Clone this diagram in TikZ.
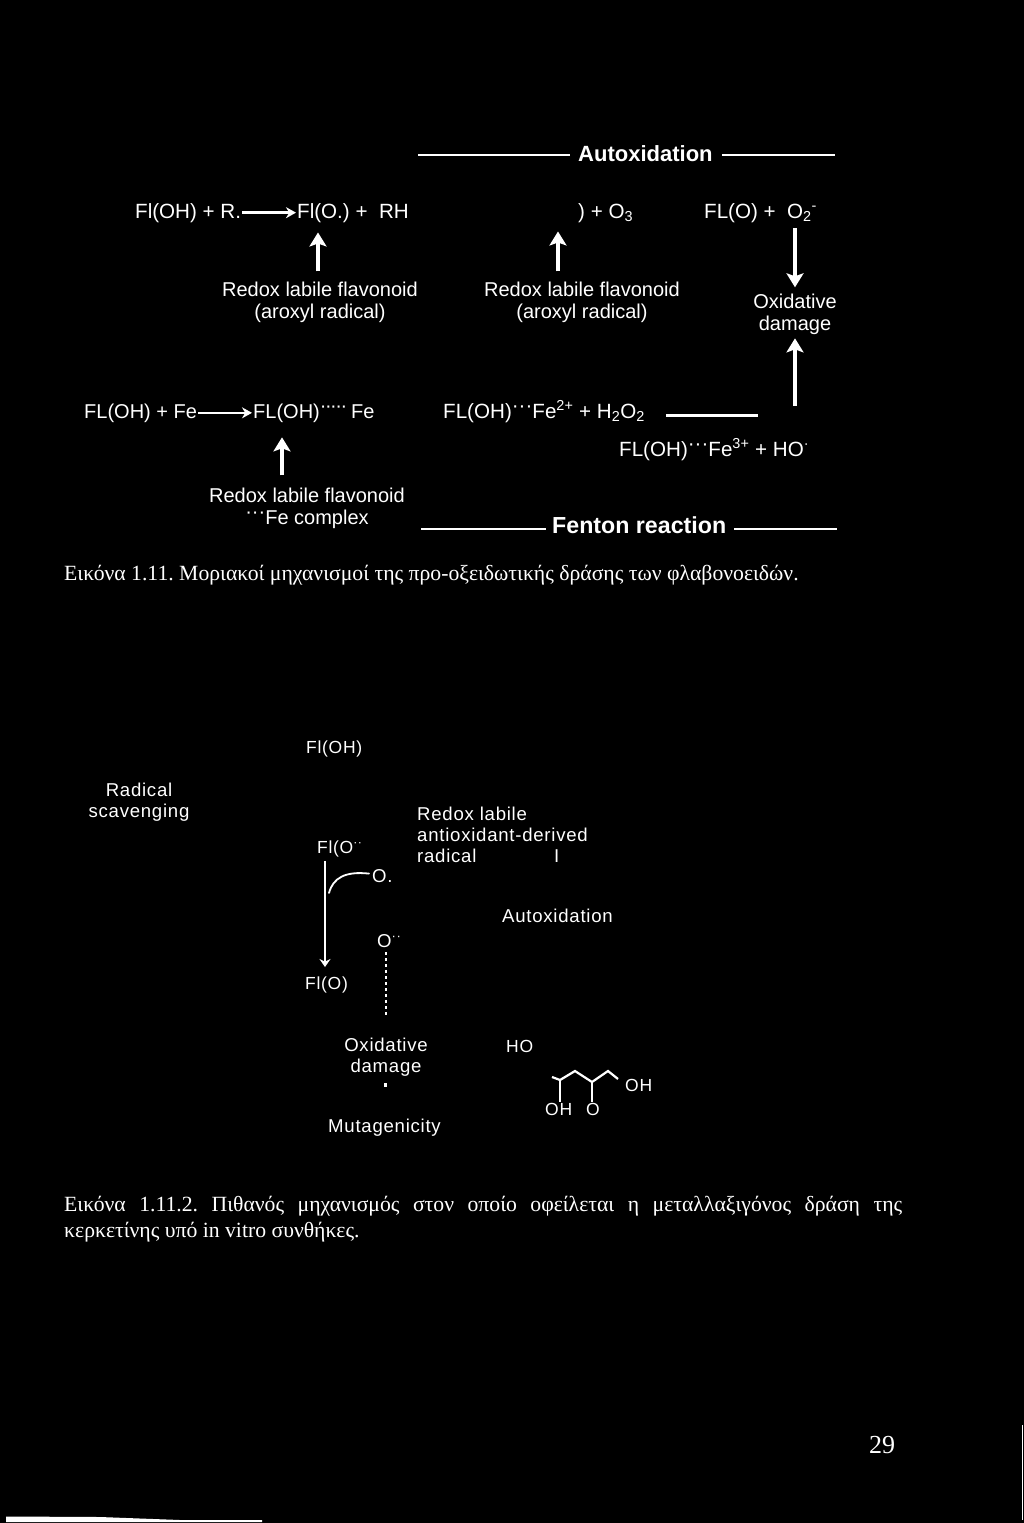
\documentclass[tikz,border=0pt]{standalone}
\usepackage{fontspec}
\setmainfont{Liberation Serif}
\setsansfont{Liberation Sans}
\usetikzlibrary{arrows.meta,calc}
\frenchspacing
\newcommand{\hd}[1]{\raisebox{0.5ex}[0pt][0pt]{#1}}
\newcommand{\pd}{\textperiodcentered\kern-1.5pt}
\tikzset{
  lab/.style={text=white,font=\sffamily\fontsize{20.6}{22}\selectfont,inner sep=1pt},
  labw/.style={text=white,font=\sffamily\fontsize{20}{22}\selectfont,inner sep=1pt},
  lows/.style={text=white,font=\sffamily\addfontfeature{LetterSpace=4}\fontsize{18.6}{21}\selectfont,inner sep=1pt},
  chem/.style={text=white,font=\sffamily\addfontfeature{LetterSpace=4}\fontsize{17.5}{21}\selectfont,inner sep=1pt},
  head/.style={text=white,font=\sffamily\bfseries\fontsize{22}{26}\selectfont,inner sep=1pt},
  headb/.style={text=white,font=\sffamily\bfseries\fontsize{23.2}{26}\selectfont,inner sep=1pt},
  greek/.style={text=white,font=\rmfamily\fontsize{21.7}{26}\selectfont,inner sep=0pt},
  wl/.style={draw=white,line width=#1},
  bigarrow/.style={draw=white,line width=3.4pt,-{Stealth[length=14pt,width=17pt,inset=3pt]}},
  smallarrow/.style={draw=white,line width=2.6pt,-{Stealth[length=10pt,width=11pt]}}
}
\begin{document}
\begin{tikzpicture}[x=1pt,y=-1pt]
\useasboundingbox (0,0) rectangle (1024,1523);
\fill[black] (0,0) rectangle (1024,1523);

% --- upper scheme
\node[head,anchor=base west] (auto) at (577,161) {Autoxidation};
\coordinate (autoL) at (418,155);
\coordinate (autoR) at (835,155);
\draw[wl=2pt] (autoL) -- ([xshift=-7pt]autoL -| auto.west);
\draw[wl=2pt] ([xshift=8pt]auto.east |- autoR) -- (autoR);

\node[lab,anchor=base west] (r1a) at (134,218) {Fl(OH) + R.};
\node[lab,anchor=base west] (r1b) at (296,218) {Fl(O.) +\ \ RH};
\draw[smallarrow] (r1a) -- (r1b);
\node[lab,anchor=base west] (r1c) at (577,218) {) + O\textsubscript{3}};
\node[lab,anchor=base west] (r1d) at (703,218) {FL(O) +\ \ O\textsubscript{2}\textsuperscript{-}};

\node[labw,align=center,anchor=base] (rd1) at (320,318) {Redox labile flavonoid\\(aroxyl radical)};
\node[labw,align=center,anchor=base] (rd2) at (582,318) {Redox labile flavonoid\\(aroxyl radical)};
\node[labw,align=center,anchor=base] (ox1) at (795,330) {Oxidative\\damage};

\draw[bigarrow,shorten <=9pt,shorten >=9pt] ([xshift=-2pt]rd1.north) -- ([xshift=-2pt]rd1.north |- r1b.south);
\draw[bigarrow,shorten <=9pt,shorten >=8pt] ([xshift=-24pt]rd2.north) -- ([xshift=-24pt]rd2.north |- r1c.south);
\draw[bigarrow,shorten <=5pt,shorten >=5pt] (r1d.south -| ox1.north) -- (ox1.north);

\node[labw,anchor=base west] (r2a) at (83,418) {FL(OH) + Fe};
\node[labw,anchor=base west] (r2b) at (252,418) {FL(OH)\hd{\pd\pd\pd\pd\pd}\ Fe};
\draw[smallarrow] (r2a) -- (r2b);
\node[lab,anchor=base west] (r2c) at (442,418) {FL(OH)\hd{\textperiodcentered\textperiodcentered\textperiodcentered}Fe\textsuperscript{2+} + H\textsubscript{2}O\textsubscript{2}};
\node[lab,anchor=base west] (r2d) at (618,456) {FL(OH)\hd{\textperiodcentered\textperiodcentered\textperiodcentered}Fe\textsuperscript{3+} + HO\textsuperscript{\textperiodcentered}};
\coordinate (fenEnd) at (758,415);
\draw[wl=3pt,shorten <=20pt] (r2c.east |- fenEnd) -- (fenEnd);
\draw[bigarrow,shorten <=31pt,shorten >=3pt] (r2d.north -| ox1.south) -- (ox1.south);

\node[labw,align=center,anchor=base] (rd3) at (307,524) {Redox labile flavonoid\\\hd{\textperiodcentered\textperiodcentered\textperiodcentered}Fe complex};
\draw[bigarrow,shorten <=11pt,shorten >=14pt] ([xshift=-25pt]rd3.north) -- ([xshift=-25pt]rd3.north |- r2b.south);

\node[headb,anchor=base west] (fen) at (551,533) {Fenton reaction};
\coordinate (fenL) at (421,529);
\coordinate (fenR) at (837,529);
\draw[wl=2pt] (fenL) -- ([xshift=-5pt]fenL -| fen.west);
\draw[wl=2pt] ([xshift=7pt]fen.east |- fenR) -- (fenR);

\node[greek,anchor=base west] (cap1) at (64,580) {Εικόνα 1.11. Μοριακοί μηχανισμοί της προ-οξειδωτικής δράσης των φλαβονοειδών.};

% --- lower scheme
\node[chem,anchor=base west] (a1) at (305,753) {Fl(OH)};
\node[lows,align=center,anchor=base] (rs) at (139,817) {Radical\\scavenging};
\node[chem,anchor=base west] (a2) at (316,853) {Fl(O\textsuperscript{\textperiodcentered\textperiodcentered}};
\node[lows,align=left,anchor=base west] (rl) at (416,862) {Redox labile\\antioxidant-derived\\radical};
\node[lows,anchor=base west] (bar) at (553,862) {I};
\node[lows,anchor=base west] (o1) at (371,882) {O.};
\node[lows,anchor=base west] (o2) at (376,947) {O\textsuperscript{\textperiodcentered\textperiodcentered}};
\node[lows,anchor=base west] (aut2) at (501,922) {Autoxidation};
\node[chem,anchor=base west] (a3) at (304,989) {Fl(O)};
\node[lows,align=center,anchor=base] (ox2) at (386,1072) {Oxidative\\damage};
\node[lows,anchor=base west] (mut) at (327,1132) {Mutagenicity};

\coordinate (j1) at (329,893);
\draw[white,line width=2.4pt,-{Stealth[length=8pt,width=11pt]}] (a2.south -| 325,0) ++(0,3) -- (325,967);
\draw[white,line width=1.8pt,line cap=round] (o1.west) ++(-2,-2) .. controls (345,871) and (333,878) .. (j1);
\draw[white,line width=2.6pt,dash pattern=on 3pt off 3pt,shorten <=4pt] (o2.south -| 386,0) -- (386,1016);
\fill[white] (ox2.south) ++(-2,6) rectangle ++(3,4);

\node[chem,anchor=base west] (ho) at (505,1052) {HO};
\node[chem,anchor=base west] (oh1) at (624,1091) {OH};
\node[chem,anchor=base west] (oh2) at (544,1115) {OH};
\node[chem,anchor=base west] (o3) at (585,1115) {O};
\coordinate (c1) at (552,1077);
\coordinate (c2) at (560,1080);
\coordinate (c3) at (575,1071);
\coordinate (c4) at (592,1082);
\coordinate (c5) at (608,1071);
\coordinate (c6) at (618,1079);
\draw[white,line width=2.2pt] (c1) -- (c2) -- (c3) -- (c4) -- (c5) -- (c6);
\draw[white,line width=2.4pt] (c2) -- (c2 |- oh2.north);
\draw[white,line width=2.4pt] (c4) -- (c4 |- o3.north);

\node[greek,anchor=north west,text width=838pt,align=justify] (cap2) at (64,1196) {Εικόνα 1.11.2. Πιθανός μηχανισμός στον οποίο οφείλεται η μεταλλαξιγόνος δράση της\linebreak κερκετίνης υπό in vitro συνθήκες.};

\node[greek,anchor=base west,font=\rmfamily\fontsize{26}{28}\selectfont] (pg) at (869,1453) {29};

% --- page edges of the scan
\fill[white] (6,1516.5) -- (100,1517) -- (180,1520) -- (262,1520) -- (262,1522) -- (6,1522) -- cycle;
\draw[white,line width=1pt] (1022,1425) -- (1022,1520);
\end{tikzpicture}
\end{document}
